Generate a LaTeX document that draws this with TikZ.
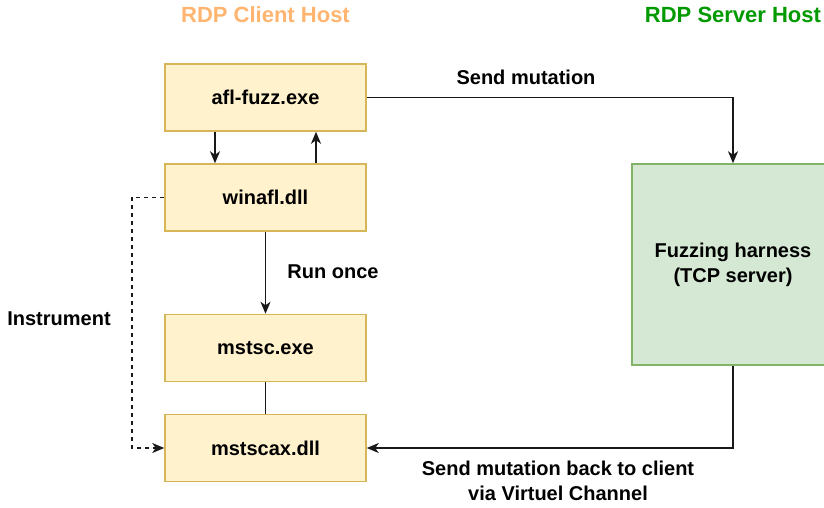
\documentclass[tikz,border=0pt]{standalone}
\usepackage{fontspec}
\setmainfont{Liberation Sans}
\usetikzlibrary{arrows.meta}
\definecolor{boxfill}{HTML}{FFF2CC}
\definecolor{boxline}{HTML}{D6B656}
\definecolor{hfill}{HTML}{D5E8D4}
\definecolor{hline}{HTML}{82B366}
\definecolor{clienttitle}{HTML}{FFB570}
\definecolor{servertitle}{HTML}{009900}
\begin{document}
\begin{tikzpicture}[x=1pt,y=-1pt,
  font=\fontsize{20}{25}\selectfont\bfseries,
  box/.style={draw=boxline, fill=boxfill, line width=1.5pt, minimum width=201pt, minimum height=67pt, inner sep=0pt},
  harness/.style={draw=hline, fill=hfill, line width=1.5pt, minimum width=202pt, minimum height=201pt, inner sep=0pt, align=center},
  title/.style={inner sep=0pt, font=\fontsize{22}{26}\selectfont\bfseries},
  link/.style={line width=1.5pt, draw=black!90},
  conn/.style={link, -{Stealth[length=12pt,width=10pt,inset=3.5pt]}},
  lbl/.style={inner sep=0pt, align=center}]
\useasboundingbox (0,0) rectangle (824,507);
\node[title, text=clienttitle] (tc) at (265.5,15) {RDP Client Host};
\node[title, text=servertitle] (ts) at (733,15) {RDP Server Host};
\node[box] (afl) at (265.5,97.5) {afl-fuzz.exe};
\node[box] (win) at (265.5,197.5) {winafl.dll};
\node[box] (mstsc) at (265.5,348) {mstsc.exe};
\node[box] (ax) at (265.5,448) {mstscax.dll};
\node[harness] (h) at (733,264.5) {Fuzzing harness\\(TCP server)};
\draw[conn] ([xshift=-50.5pt]afl.south) -- ([xshift=-50.5pt]win.north);
\draw[conn] ([xshift=50.5pt]win.north) -- ([xshift=50.5pt]afl.south);
\draw[conn] (afl.east) -| (h.north);
\node[lbl] (l1) at (526,77) {Send mutation};
\draw[conn] (win.south) -- (mstsc.north);
\node[lbl] (l2) at (333,272) {Run once};
\draw[link] (mstsc.south) -- (ax.north);
\draw[conn] (h.south) |- (ax.east);
\node[lbl] (l3) at (558,481) {Send mutation back to client\\via Virtuel Channel};
\coordinate (dc) at (132,197.5);
\draw[conn, dash pattern=on 4pt off 4pt] (win.west) -- (dc) |- (ax.west);
\node[lbl] (l4) at (59,319) {Instrument};
\end{tikzpicture}
\end{document}
